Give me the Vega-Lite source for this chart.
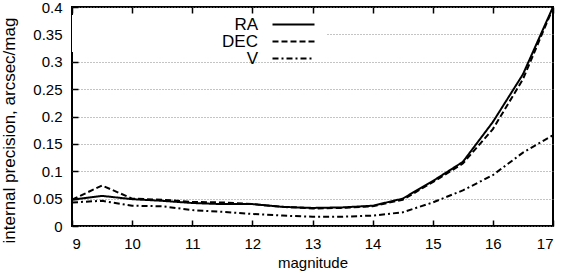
{
  "$schema": "https://vega.github.io/schema/vega-lite/v6.json",
  "width": 481,
  "height": 219,
  "autosize": {"type": "none"},
  "padding": {"left": 72, "top": 7, "right": 10, "bottom": 48},
  "config": {
    "font": "Liberation Sans",
    "view": {"stroke": "black", "strokeWidth": 2},
    "axis": {
      "labelFont": "Liberation Sans",
      "titleFont": "Liberation Sans",
      "labelFontSize": 15,
      "titleFontSize": 15,
      "titleFontWeight": "normal",
      "labelColor": "black",
      "titleColor": "black",
      "tickColor": "black",
      "tickWidth": 1.5,
      "tickSize": -6,
      "domain": false
    },
    "legend": {
      "labelFont": "Liberation Sans",
      "labelFontSize": 17,
      "labelColor": "black"
    }
  },
  "data": {
    "values": [
      {"mag": 9, "series": "RA", "prec": 0.048},
      {"mag": 9.5, "series": "RA", "prec": 0.055},
      {"mag": 10, "series": "RA", "prec": 0.049},
      {"mag": 10.5, "series": "RA", "prec": 0.046},
      {"mag": 11, "series": "RA", "prec": 0.042},
      {"mag": 11.5, "series": "RA", "prec": 0.040},
      {"mag": 12, "series": "RA", "prec": 0.040},
      {"mag": 12.5, "series": "RA", "prec": 0.035},
      {"mag": 13, "series": "RA", "prec": 0.033},
      {"mag": 13.5, "series": "RA", "prec": 0.034},
      {"mag": 14, "series": "RA", "prec": 0.037},
      {"mag": 14.5, "series": "RA", "prec": 0.050},
      {"mag": 15, "series": "RA", "prec": 0.082},
      {"mag": 15.5, "series": "RA", "prec": 0.117},
      {"mag": 16, "series": "RA", "prec": 0.19},
      {"mag": 16.5, "series": "RA", "prec": 0.277},
      {"mag": 17, "series": "RA", "prec": 0.40},
      {"mag": 9, "series": "DEC", "prec": 0.048},
      {"mag": 9.5, "series": "DEC", "prec": 0.074},
      {"mag": 10, "series": "DEC", "prec": 0.050},
      {"mag": 10.5, "series": "DEC", "prec": 0.048},
      {"mag": 11, "series": "DEC", "prec": 0.044},
      {"mag": 11.5, "series": "DEC", "prec": 0.043},
      {"mag": 12, "series": "DEC", "prec": 0.040},
      {"mag": 12.5, "series": "DEC", "prec": 0.035},
      {"mag": 13, "series": "DEC", "prec": 0.032},
      {"mag": 13.5, "series": "DEC", "prec": 0.033},
      {"mag": 14, "series": "DEC", "prec": 0.036},
      {"mag": 14.5, "series": "DEC", "prec": 0.048},
      {"mag": 15, "series": "DEC", "prec": 0.080},
      {"mag": 15.5, "series": "DEC", "prec": 0.114},
      {"mag": 16, "series": "DEC", "prec": 0.177},
      {"mag": 16.5, "series": "DEC", "prec": 0.268},
      {"mag": 17, "series": "DEC", "prec": 0.398},
      {"mag": 9, "series": "V", "prec": 0.043},
      {"mag": 9.5, "series": "V", "prec": 0.046},
      {"mag": 10, "series": "V", "prec": 0.037},
      {"mag": 10.5, "series": "V", "prec": 0.036},
      {"mag": 11, "series": "V", "prec": 0.029},
      {"mag": 11.5, "series": "V", "prec": 0.026},
      {"mag": 12, "series": "V", "prec": 0.022},
      {"mag": 12.5, "series": "V", "prec": 0.019},
      {"mag": 13, "series": "V", "prec": 0.017},
      {"mag": 13.5, "series": "V", "prec": 0.017},
      {"mag": 14, "series": "V", "prec": 0.019},
      {"mag": 14.5, "series": "V", "prec": 0.025},
      {"mag": 15, "series": "V", "prec": 0.043},
      {"mag": 15.5, "series": "V", "prec": 0.065},
      {"mag": 16, "series": "V", "prec": 0.093},
      {"mag": 16.5, "series": "V", "prec": 0.134},
      {"mag": 17, "series": "V", "prec": 0.166}
    ]
  },
  "resolve": {"axis": {"x": "independent", "y": "independent"}},
  "layer": [
    {
      "mark": {"type": "rect", "color": "white"},
      "encoding": {
        "x": {
          "datum": 9,
          "type": "quantitative",
          "scale": {"domain": [9, 17], "nice": false},
          "axis": {
            "orient": "top",
            "values": [9, 10, 11, 12, 13, 14, 15, 16, 17],
            "labels": false,
            "grid": false,
            "title": null
          }
        },
        "x2": {"datum": 13.23},
        "y": {
          "datum": 0.318,
          "type": "quantitative",
          "scale": {"domain": [0, 0.4], "nice": false},
          "axis": null
        },
        "y2": {"datum": 0.385}
      }
    },
    {
      "mark": {"type": "line", "color": "black", "strokeWidth": 2},
      "encoding": {
        "x": {
          "field": "mag",
          "type": "quantitative",
          "scale": {"domain": [9, 17], "nice": false},
          "axis": {
            "orient": "bottom",
            "values": [9, 10, 11, 12, 13, 14, 15, 16, 17],
            "title": "magnitude",
            "labelPadding": 16,
            "titleX": 240.5,
            "titleY": 36,
            "titleBaseline": "middle",
            "titleAlign": "center",
            "grid": false
          }
        },
        "y": {
          "field": "prec",
          "type": "quantitative",
          "scale": {"domain": [0, 0.4], "nice": false},
          "axis": {
            "values": [0, 0.05, 0.1, 0.15, 0.2, 0.25, 0.3, 0.35, 0.4],
            "format": ".2~f",
            "title": "internal precision, arcsec/mag",
            "titleFontSize": 17,
            "titleX": -63,
            "titleY": 123,
            "titleAngle": 270,
            "titleBaseline": "middle",
            "titleAlign": "center",
            "labelPadding": 16,
            "grid": true,
            "gridColor": "#888888",
            "gridDash": [1, 2],
            "gridWidth": 1
          }
        },
        "strokeDash": {
          "field": "series",
          "type": "nominal",
          "scale": {"domain": ["RA", "DEC", "V"], "range": [[1, 0], [6, 3], [6, 3, 2, 3]]},
          "legend": {
            "title": null,
            "orient": "none",
            "legendX": 213,
            "legendY": 9,
            "symbolType": "M-2.8,0H2.8",
            "symbolSize": 225,
            "symbolStrokeWidth": 2,
            "symbolStrokeColor": "black",
            "symbolFillColor": "transparent",
            "labelAlign": "right",
            "labelOffset": -44,
            "rowPadding": -3
          }
        }
      }
    }
  ]
}
